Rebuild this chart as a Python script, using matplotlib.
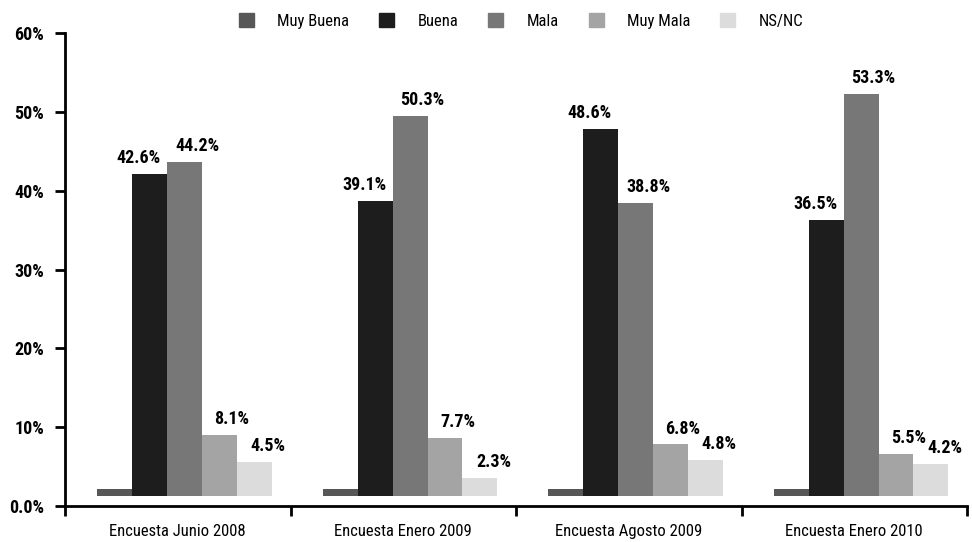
import matplotlib
matplotlib.use("Agg")
import matplotlib.pyplot as plt
from matplotlib.patches import Patch
from matplotlib import font_manager
import numpy as np

#condensed look like the original, fall back to DejaVu
names = set(f.name for f in font_manager.fontManager.ttflist)
fam = [f for f in ['Liberation Sans Narrow', 'Roboto Condensed', 'DejaVu Sans'] if f in names]
plt.rcParams['font.family'] = fam

surveys = ['Encuesta Junio 2008', 'Encuesta Enero 2009', 'Encuesta Agosto 2009', 'Encuesta Enero 2010']
series = ['Muy Buena', 'Buena', 'Mala', 'Muy Mala', 'NS/NC']
muy_buena = [0.9, 0.9, 0.9, 0.9]
buena = [42.6, 39.1, 48.6, 36.5]
mala = [44.2, 50.3, 38.8, 53.3]
muy_mala = [8.1, 7.7, 6.8, 5.5]
nsnc = [4.5, 2.3, 4.8, 4.2]
yticks = [0, 10, 20, 30, 40, 50, 60]
ytick_labels = ['0.0%', '10%', '20%', '30%', '40%', '50%', '60%']

colors = ['#575757', '#1d1d1d', '#777777', '#a4a4a4', '#dcdcdc']
show_label = [False, True, True, True, True]
label_dx = [0, -8, 9, 9, 10]   # points

# the original draws bars on a raised "floor" and slightly squashed
floor = 1.3
squash = 0.957

fig = plt.figure(figsize=(9.72, 5.42), dpi=100)
ax = fig.add_axes([0.0669, 0.0664, 0.928, 0.8726])

data = [muy_buena, buena, mala, muy_mala, nsnc]
w = 0.155
x = np.arange(len(surveys)) + 0.5
for i, vals in enumerate(data):
    xs = x + (i - 2) * w + 0.03
    h = [v * squash for v in vals]
    bars = ax.bar(xs, h, w, bottom=floor, color=colors[i], label=series[i], zorder=2)
    if show_label[i]:
        for b, v in zip(bars, vals):
            ax.annotate('{:.1f}%'.format(v), (b.get_x() + b.get_width() / 2, b.get_y() + b.get_height()),
                        xytext=(label_dx[i], 5), textcoords='offset points',
                        ha='center', va='bottom', fontsize=13, fontweight='bold')

ax.set_xlim(0, len(surveys))
ax.set_ylim(0, 60)
ax.set_yticks(yticks)
ax.set_yticklabels(ytick_labels, fontsize=13, fontweight='bold')
ax.tick_params(axis='y', length=7, width=2, pad=8)

ax.set_xticks(np.arange(len(surveys) + 1))
ax.set_xticklabels([])
ax.set_xticks(x, minor=True)
ax.set_xticklabels(surveys, minor=True, fontsize=12)
ax.tick_params(axis='x', which='major', length=7, width=2, direction='out')
ax.tick_params(axis='x', which='minor', length=0, pad=13)

for s in ['top', 'right']:
    ax.spines[s].set_visible(False)
for s in ['left', 'bottom']:
    ax.spines[s].set_linewidth(2)

handles = [Patch(color=c) for c in colors]
fig.legend(handles, series, loc='upper center', bbox_to_anchor=(0.536, 1.003), ncol=5,
           frameon=False, fontsize=12, handlelength=0.9, handleheight=0.9,
           handletextpad=1.4, columnspacing=1.8)

fig.savefig('out.png', dpi=100)
